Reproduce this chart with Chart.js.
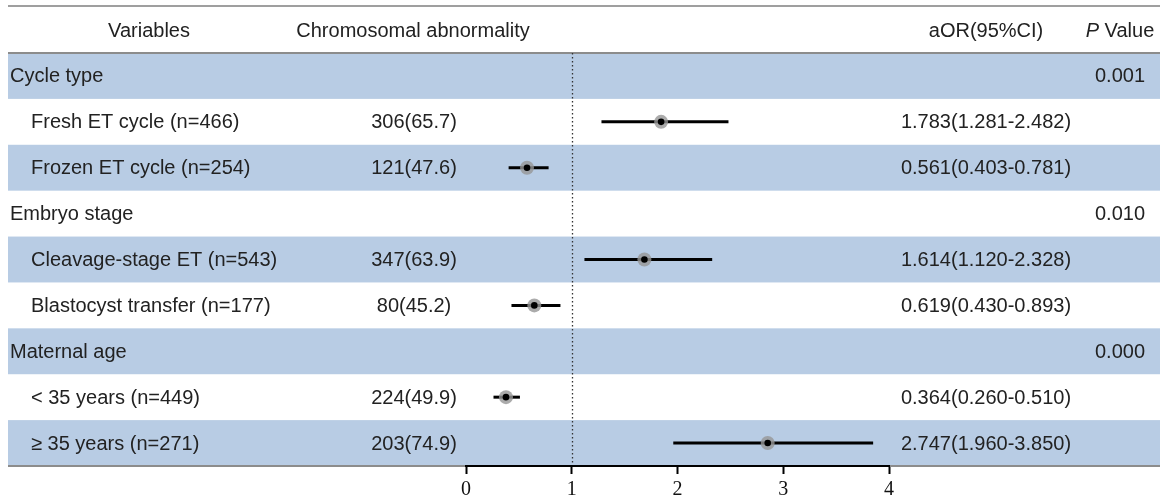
<!DOCTYPE html>
<html>
<head>
<meta charset="utf-8">
<script src="https://cdn.jsdelivr.net/npm/chart.js@4"></script>
<style>
html,body{margin:0;padding:0;background:#fff;}
#wrap{width:1162px;height:503px;position:relative;}
</style>
</head>
<body>
<div id="wrap"><canvas id="c"></canvas></div>
<script>
// ---- data ----
const rowLabels = [
  'Cycle type',
  'Fresh ET cycle (n=466)',
  'Frozen ET cycle (n=254)',
  'Embryo stage',
  'Cleavage-stage ET (n=543)',
  'Blastocyst transfer (n=177)',
  'Maternal age',
  '< 35 years (n=449)',
  '\u2265 35 years (n=271)'
];
const rowIsGroup = [true, false, false, true, false, false, true, false, false];
const abnormality = ['', '306(65.7)', '121(47.6)', '', '347(63.9)', '80(45.2)', '', '224(49.9)', '203(74.9)'];
const aorText = ['', '1.783(1.281-2.482)', '0.561(0.403-0.781)', '', '1.614(1.120-2.328)', '0.619(0.430-0.893)', '', '0.364(0.260-0.510)', '2.747(1.960-3.850)'];
const pValues = ['0.001', '', '', '0.010', '', '', '0.000', '', ''];
// marker positions
const orPoint = [null, 1.845, 0.577, null, 1.687, 0.646, null, 0.378, 2.853];
const ciLower = [null, 1.281, 0.403, null, 1.120, 0.430, null, 0.260, 1.960];
const ciUpper = [null, 2.482, 0.781, null, 2.328, 0.893, null, 0.510, 3.850];
const xTicks = [0, 1, 2, 3, 4];
const headerVariables = 'Variables';
const headerAbnormality = 'Chromosomal abnormality';
const headerAor = 'aOR(95%CI)';
const headerP = ['P', ' Value'];

// ---- build datasets ----
const rowIdx = rowLabels.map((_, i) => i).filter(i => orPoint[i] !== null);
const whiskerSets = rowIdx.map(i => ({
  type: 'line',
  data: [{x: ciLower[i], y: i}, {x: ciUpper[i], y: i}],
  borderColor: '#000',
  borderWidth: 3,
  pointRadius: 0,
  order: 3
}));
const haloSet = {
  type: 'scatter',
  data: rowIdx.map(i => ({x: orPoint[i], y: i})),
  pointRadius: 7,
  backgroundColor: 'rgba(150,150,150,0.8)',
  borderWidth: 0,
  order: 2
};
const dotSet = {
  type: 'scatter',
  data: rowIdx.map(i => ({x: orPoint[i], y: i})),
  pointRadius: 3.3,
  backgroundColor: '#000',
  borderWidth: 0,
  order: 1
};

const SANS = '"Liberation Sans", Arial, Helvetica, sans-serif';
const TEXT = '#222';
const LEFT = 8, RIGHT = 1160;

const tablePlugin = {
  id: 'forestTable',
  beforeDraw(chart) {
    const ctx = chart.ctx;
    const ys = chart.scales.y;
    ctx.save();
    ctx.fillStyle = '#fff';
    ctx.fillRect(0, 0, chart.width, chart.height);
    // bands
    for (let i = 0; i < rowLabels.length; i++) {
      if (i % 2 !== 0) continue;
      const t = ys.getPixelForValue(i - 0.5);
      const b = ys.getPixelForValue(i + 0.5);
      ctx.fillStyle = '#b8cce4';
      ctx.fillRect(LEFT, t, RIGHT - LEFT, b - t);
    }
    // rules
    const top = ys.getPixelForValue(-0.5);
    const bot = ys.getPixelForValue(rowLabels.length - 0.5);
    ctx.strokeStyle = '#7f7f7f';
    ctx.lineWidth = 1.5;
    ctx.beginPath(); ctx.moveTo(LEFT, 6); ctx.lineTo(RIGHT, 6); ctx.stroke();
    ctx.strokeStyle = '#8c8c8c';
    ctx.lineWidth = 2;
    ctx.beginPath(); ctx.moveTo(LEFT, top); ctx.lineTo(RIGHT, top); ctx.stroke();
    ctx.beginPath(); ctx.moveTo(LEFT, bot); ctx.lineTo(RIGHT, bot); ctx.stroke();
    // reference line at OR = 1
    const xs = chart.scales.x;
    const x1 = Math.round(xs.getPixelForValue(1)) + 0.5;
    ctx.strokeStyle = '#333';
    ctx.lineWidth = 1.3;
    ctx.setLineDash([1.5, 2.5]);
    ctx.beginPath(); ctx.moveTo(x1, top); ctx.lineTo(x1, bot); ctx.stroke();
    ctx.setLineDash([]);
    // texts
    ctx.font = '20px ' + SANS;
    ctx.fillStyle = TEXT;
    ctx.textBaseline = 'middle';
    const hy = 31;
    ctx.textAlign = 'center';
    ctx.fillText(headerVariables, 149, hy);
    ctx.fillText(headerAbnormality, 413, hy);
    ctx.fillText(headerAor, 986, hy);
    // P Value with italic P
    ctx.font = 'italic 20px ' + SANS;
    const wP = ctx.measureText(headerP[0]).width;
    ctx.font = '20px ' + SANS;
    const wV = ctx.measureText(headerP[1]).width;
    const startP = 1120 - (wP + wV) / 2;
    ctx.textAlign = 'left';
    ctx.font = 'italic 20px ' + SANS;
    ctx.fillText(headerP[0], startP, hy);
    ctx.font = '20px ' + SANS;
    ctx.fillText(headerP[1], startP + wP, hy);
    for (let i = 0; i < rowLabels.length; i++) {
      const cy = ys.getPixelForValue(i) + 1;
      ctx.textAlign = 'left';
      ctx.fillText(rowLabels[i], rowIsGroup[i] ? 10 : 31, cy);
      ctx.textAlign = 'center';
      if (abnormality[i]) ctx.fillText(abnormality[i], 414, cy);
      if (aorText[i]) ctx.fillText(aorText[i], 986, cy);
      if (pValues[i]) ctx.fillText(pValues[i], 1120, cy);
    }
    ctx.restore();
  }
};

new Chart(document.getElementById('c'), {
  type: 'scatter',
  data: { datasets: [dotSet, haloSet, ...whiskerSets] },
  options: {
    responsive: true,
    maintainAspectRatio: false,
    animation: false,
    events: [],
    layout: { padding: { left: 466, right: 273, top: 53, bottom: 0 } },
    plugins: { legend: { display: false }, tooltip: { enabled: false } },
    scales: {
      x: {
        type: 'linear',
        position: 'bottom',
        min: xTicks[0],
        max: xTicks[xTicks.length - 1],
        afterBuildTicks(scale) { scale.ticks = xTicks.map(v => ({value: v})); },
        afterFit(scale) { scale.height = 37; },
        ticks: {
          color: '#111',
          padding: 4,
          font: { family: '"Liberation Serif", "Times New Roman", serif', size: 20 },
          callback: v => String(v)
        },
        grid: { drawOnChartArea: false, drawTicks: true, tickLength: 8, tickColor: '#000', tickWidth: 2, color: '#000' },
        border: { display: true, color: '#000', width: 2 }
      },
      y: {
        type: 'linear',
        display: false,
        reverse: true,
        min: -0.5,
        max: rowLabels.length - 0.5
      }
    }
  },
  plugins: [tablePlugin]
});
</script>
</body>
</html>
